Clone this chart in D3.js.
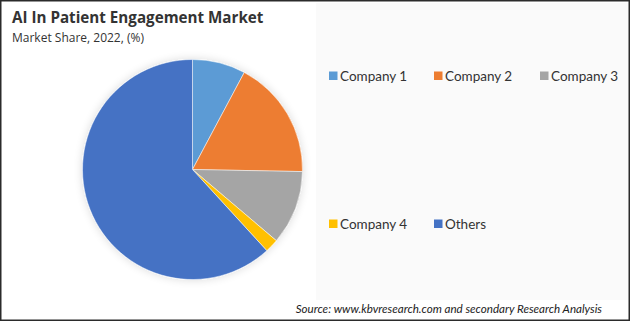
<!DOCTYPE html>
<html>
<head>
<meta charset="utf-8">
<script src="https://cdn.jsdelivr.net/npm/d3@7"></script>
<style>
  body { margin: 0; background: #fff; }
  svg { display: block; }
</style>
</head>
<body>
<div id="chart"></div>
<script>
// market share values
const companies = ["Company 1", "Company 2", "Company 3", "Company 4", "Others"];
const shares = [7.8, 17.5, 10.9, 2.0, 61.8];
const colors = ["#5b9bd5", "#ed7d31", "#a5a5a5", "#ffc000", "#4472c4"];

const width = 631, height = 322;

let svg = d3.select("#chart")
    .append("svg")
    .attr("width", width)
    .attr("height", height)
    .attr("font-family", "'Open Sans', sans-serif");

let defs = svg.append("defs");
let shadow = defs.append("filter")
    .attr("id", "pieShadow")
    .attr("x", "-20%").attr("y", "-20%")
    .attr("width", "140%").attr("height", "140%");
shadow.append("feGaussianBlur").attr("in", "SourceAlpha").attr("stdDeviation", 5);
shadow.append("feComponentTransfer")
    .append("feFuncA").attr("type", "linear").attr("slope", 0.15);
let merge = shadow.append("feMerge");
merge.append("feMergeNode");
merge.append("feMergeNode").attr("in", "SourceGraphic");

// legend panel background
svg.append("rect")
    .attr("x", 316).attr("y", 3)
    .attr("width", 313).attr("height", 297)
    .attr("fill", "#fafafa");

// outer frame
svg.append("rect")
    .attr("x", 0.75).attr("y", 0.75)
    .attr("width", width - 2.5).attr("height", height - 2.5)
    .attr("fill", "none")
    .attr("stroke", "#2b2b2b")
    .attr("stroke-width", 1.5);

// titles
svg.append("text")
    .attr("x", 12).attr("y", 23)
    .attr("font-size", 15.2)
    .attr("font-weight", "bold")
    .attr("fill", "#333")
    .text("AI In Patient Engagement Market");

svg.append("text")
    .attr("x", 12).attr("y", 42)
    .attr("font-size", 12)
    .attr("fill", "#333")
    .text("Market Share, 2022, (%)");

// pie
let cx = 192.5, cy = 169.5, radius = 110;

let pie = d3.pie().sort(null).value(d => d);
let arc = d3.arc().innerRadius(0).outerRadius(radius);

let color = d3.scaleOrdinal().domain(companies).range(colors);

let pieGroup = svg.append("g")
    .attr("transform", `translate(${cx},${cy})`)
    .attr("filter", "url(#pieShadow)");

pieGroup.selectAll("path")
    .data(pie(shares))
    .join("path")
    .attr("d", arc)
    .attr("fill", (d, i) => color(companies[i]))
    .attr("stroke", "#fff")
    .attr("stroke-width", 0.5);

// legend: two rows
let legendPos = [
    { x: 329, y: 76 }, { x: 434, y: 76 }, { x: 540, y: 76 },
    { x: 329, y: 224 }, { x: 434, y: 224 }
];

let legend = svg.append("g")
    .selectAll("g")
    .data(companies)
    .join("g")
    .attr("transform", (d, i) => `translate(${legendPos[i].x},${legendPos[i].y})`);

legend.append("rect")
    .attr("x", 0).attr("y", -4.5)
    .attr("width", 8.5).attr("height", 8.5)
    .attr("fill", d => color(d));

legend.append("text")
    .attr("x", 11).attr("y", 0)
    .attr("dy", "0.35em")
    .attr("font-family", "Lato, sans-serif")
    .attr("font-size", 13.5)
    .attr("fill", "#333")
    .text(d => d);

// source note
svg.append("text")
    .attr("x", 602).attr("y", 313)
    .attr("text-anchor", "end")
    .attr("font-family", "Lato, sans-serif")
    .attr("font-style", "italic")
    .attr("font-size", 11.6)
    .attr("fill", "#222")
    .text("Source: www.kbvresearch.com and secondary Research Analysis");
</script>
</body>
</html>
